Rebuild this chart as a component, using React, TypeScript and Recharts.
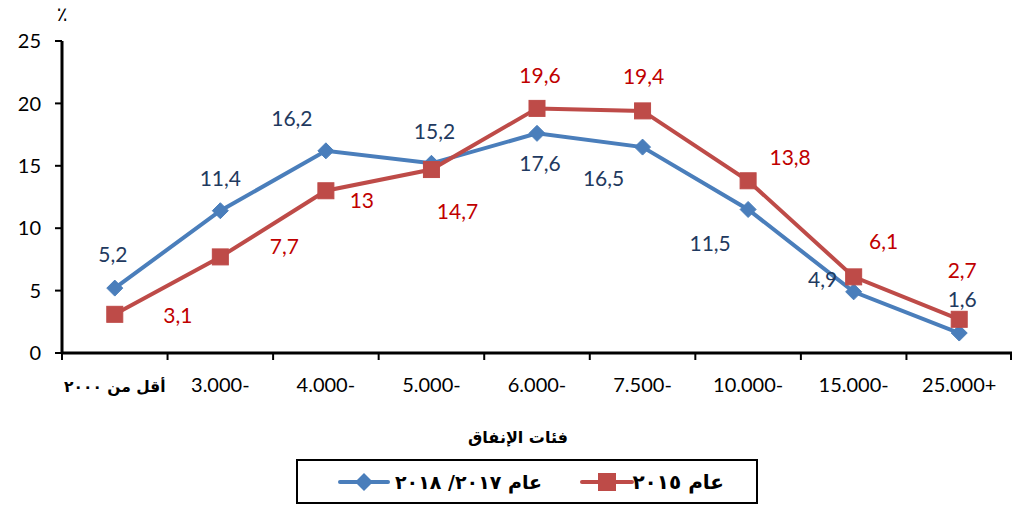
import React from 'react';
import { LineChart, Line, XAxis, YAxis, Customized } from 'recharts';

const categories = ['أقل من ٢٠٠٠', '3.000-', '4.000-', '5.000-', '6.000-', '7.500-', '10.000-', '15.000-', '25.000+'];
const values2018 = [5.2, 11.4, 16.2, 15.2, 17.6, 16.5, 11.5, 4.9, 1.6];
const values2015 = [3.1, 7.7, 13, 14.7, 19.6, 19.4, 13.8, 6.1, 2.7];
const yTicks = [0, 5, 10, 15, 20, 25];
const name2018 = 'عام ٢٠١٧/ ٢٠١٨';
const name2015 = 'عام ٢٠١٥';
const axisTitle = 'فئات الإنفاق';
const unitLabel = '٪';

// label offsets (layout only)
const offsets2018: [number, number][] = [[-2, -35], [0, -33], [-34, -33], [3, -33], [3, 29], [-39, 30], [-38, 33], [-31, -13], [3, -35]];
const offsets2015: [number, number][] = [[63, 0], [64, -11], [36, 9], [26, 41], [3, -34], [1, -35], [42, -24], [30, -36], [3, -50]];

const BLUE = '#4A7EBB';
const RED = '#BE4B48';
const BLUE_TXT = '#1F3A60';
const RED_TXT = '#C00000';
const NUM_FONT = 'Lato, "Open Sans", sans-serif';
const AR_FONT = '"DejaVu Sans", sans-serif';

const W = 1012;
const H = 508;
const LEFT = 62;
const RIGHT = 0;
const BW = (W - LEFT - RIGHT) / categories.length;

const data = categories.map((c, i) => ({ cat: c, s2018: values2018[i], s2015: values2015[i] }));

const fmt = (v: number) => String(v).replace('.', ',');

const XTick = (props: any) => {
  const { x, y, payload, index } = props;
  const isArabic = /[\u0600-\u06FF]/.test(String(payload.value));
  const left = x - BW / 2;
  const right = x + BW / 2;
  return (
    <g>
      <line x1={left} y1={y} x2={left} y2={y + 7} stroke="#000" strokeWidth={2} />
      {index === categories.length - 1 && (
        <line x1={right - 1} y1={y} x2={right - 1} y2={y + 7} stroke="#000" strokeWidth={2} />
      )}
      <text
        x={x}
        y={y + 39}
        textAnchor="middle"
        fontSize={isArabic ? 15.5 : 20}
        fontWeight={isArabic ? 'bold' : 'normal'}
        fontFamily={isArabic ? AR_FONT : NUM_FONT}
        fill="#000"
        direction={isArabic ? 'rtl' : 'ltr'}
      >
        {payload.value}
      </text>
    </g>
  );
};

const makeLabel = (offs: [number, number][], color: string) => (props: any) => {
  const { x, y, value, index } = props;
  const [dx, dy] = offs[index] || [0, 0];
  return (
    <text
      key={`l-${index}`}
      x={x + dx}
      y={y + dy}
      textAnchor="middle"
      dominantBaseline="central"
      fontSize={21}
      fontFamily={NUM_FONT}
      fill={color}
    >
      {fmt(value)}
    </text>
  );
};

const Diamond = (props: any) => {
  const { cx, cy, index } = props;
  const s = 8;
  return (
    <path
      key={`d-${index}`}
      d={`M${cx},${cy - s} L${cx + s},${cy} L${cx},${cy + s} L${cx - s},${cy} Z`}
      fill={BLUE}
      stroke={BLUE}
      strokeWidth={1}
    />
  );
};

const Square = (props: any) => {
  const { cx, cy, index } = props;
  const s = 8;
  return <rect key={`s-${index}`} x={cx - s} y={cy - s} width={2 * s} height={2 * s} fill={RED} stroke={RED} strokeWidth={1} />;
};

const Extras = () => (
  <g>
    <text x={62} y={14} textAnchor="middle" dominantBaseline="central" fontSize={20} fontFamily={AR_FONT} fill="#000">
      {unitLabel}
    </text>
    <text x={518} y={437} textAnchor="middle" dominantBaseline="central" fontSize={16} fontWeight="bold" fontFamily={AR_FONT} fill="#000" direction="rtl">
      {axisTitle}
    </text>
    {/* legend */}
    <rect x={297} y={460} width={460} height={43} fill="#fff" stroke="#000" strokeWidth={2} />
    {/* 2015 item */}
    <line x1={582} y1={482} x2={632} y2={482} stroke={RED} strokeWidth={4} strokeLinecap="round" />
    <rect x={598} y={473} width={18} height={18} fill={RED} />
    <text x={724} y={482} textAnchor="end" dominantBaseline="central" fontSize={20} fontWeight="bold" fontFamily={AR_FONT} fill="#000" direction="ltr">
      {name2015}
    </text>
    {/* 2018 item */}
    <line x1={340} y1={482} x2={388} y2={482} stroke={BLUE} strokeWidth={4} strokeLinecap="round" />
    <path d="M364,473 L373,482 L364,491 L355,482 Z" fill={BLUE} />
    <text x={542} y={482} textAnchor="end" dominantBaseline="central" fontSize={19} fontWeight="bold" fontFamily={AR_FONT} fill="#000" direction="ltr">
      {name2018}
    </text>
  </g>
);

export default function App() {
  return (
    <div style={{ position: 'absolute', left: 0, top: 0, width: W, height: H, background: '#fff' }}>
      <LineChart width={W} height={H} data={data} margin={{ top: 41, right: RIGHT, left: 0, bottom: 115 }}>
        <XAxis
          dataKey="cat"
          scale="band"
          height={40}
          tickLine={false}
          tickSize={0}
          tickMargin={0}
          axisLine={{ stroke: '#000', strokeWidth: 3 }}
          tick={<XTick />}
          interval={0}
        />
        <YAxis
          width={LEFT}
          domain={[0, 25]}
          ticks={yTicks}
          interval={0}
          tickSize={7}
          tickMargin={14}
          tickLine={{ stroke: '#000', strokeWidth: 2 }}
          axisLine={{ stroke: '#000', strokeWidth: 3 }}
          tick={{ fontSize: 20, fill: '#000', fontFamily: NUM_FONT }}
        />
        <Line
          dataKey="s2018"
          name={name2018}
          stroke={BLUE}
          strokeWidth={4}
          dot={Diamond}
          activeDot={false}
          label={makeLabel(offsets2018, BLUE_TXT)}
          isAnimationActive={false}
        />
        <Line
          dataKey="s2015"
          name={name2015}
          stroke={RED}
          strokeWidth={4}
          dot={Square}
          activeDot={false}
          label={makeLabel(offsets2015, RED_TXT)}
          isAnimationActive={false}
        />
        <Customized component={Extras} />
      </LineChart>
    </div>
  );
}
